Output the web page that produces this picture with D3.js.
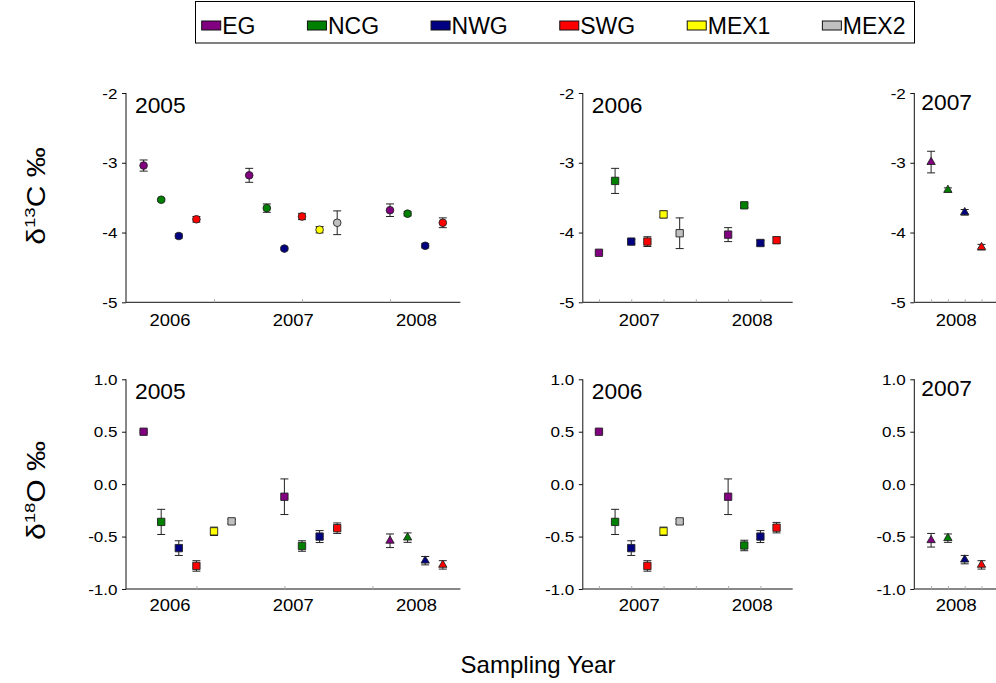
<!DOCTYPE html>
<html>
<head>
<meta charset="utf-8">
<script src="https://cdn.jsdelivr.net/npm/d3@7"></script>
<style>
  html, body { margin: 0; padding: 0; background: #fff; }
  svg { display: block; font-family: "Liberation Sans", Arial, sans-serif; }
</style>
</head>
<body>
<svg id="chart" width="996" height="683"></svg>
<script>
// Sampling sites and their legend colours
const sites = ["EG", "NCG", "NWG", "SWG", "MEX1", "MEX2"];
const siteColors = ["#800080", "#008000", "#000080", "#ff0000", "#ffff00", "#c0c0c0"];

// δ13C (‰), 2005 year class, by sampling year
const c05Site = ["EG","NCG","NWG","SWG", "EG","NCG","NWG","SWG","MEX1","MEX2", "EG","NCG","NWG","SWG"];
const c05Year = [2006,2006,2006,2006, 2007,2007,2007,2007,2007,2007, 2008,2008,2008,2008];
const c05Mean = [-3.04,-3.53,-4.05,-3.81, -3.18,-3.65,-4.23,-3.77,-3.96,-3.86, -3.68,-3.73,-4.19,-3.86];
const c05Err  = [0.08,0.02,0.03,0.04, 0.10,0.06,0.02,0.045,0.045,0.17, 0.09,0.03,0.03,0.07];

// δ13C (‰), 2006 year class
const c06Site = ["EG","NCG","NWG","SWG","MEX1","MEX2", "EG","NCG","NWG","SWG"];
const c06Year = [2007,2007,2007,2007,2007,2007, 2008,2008,2008,2008];
const c06Mean = [-4.29,-3.26,-4.13,-4.13,-3.74,-4.01, -4.03,-3.61,-4.15,-4.11];
const c06Err  = [0.02,0.18,0.03,0.07,0.05,0.22, 0.10,0.03,0.04,0.045];

// δ13C (‰), 2007 year class
const c07Site = ["EG","NCG","NWG","SWG"];
const c07Year = [2008,2008,2008,2008];
const c07Mean = [-2.99,-3.39,-3.71,-4.21];
const c07Err  = [0.155,0.03,0.04,0.04];

// δ18O (‰), 2005 year class
const o05Site = ["EG","NCG","NWG","SWG","MEX1","MEX2", "EG","NCG","NWG","SWG", "EG","NCG","NWG","SWG"];
const o05Year = [2006,2006,2006,2006,2006,2006, 2007,2007,2007,2007, 2008,2008,2008,2008];
const o05Mean = [0.50,-0.36,-0.61,-0.78,-0.45,-0.355, -0.12,-0.59,-0.50,-0.42, -0.54,-0.51,-0.73,-0.77];
const o05Err  = [0.01,0.12,0.07,0.05,0.04,0.02, 0.17,0.05,0.057,0.05, 0.065,0.045,0.04,0.04];

// δ18O (‰), 2006 year class
const o06Site = ["EG","NCG","NWG","SWG","MEX1","MEX2", "EG","NCG","NWG","SWG"];
const o06Year = [2007,2007,2007,2007,2007,2007, 2008,2008,2008,2008];
const o06Mean = [0.50,-0.36,-0.61,-0.78,-0.45,-0.355, -0.12,-0.585,-0.50,-0.415];
const o06Err  = [0.01,0.12,0.07,0.05,0.04,0.02, 0.17,0.05,0.057,0.05];

// δ18O (‰), 2007 year class
const o07Site = ["EG","NCG","NWG","SWG"];
const o07Year = [2008,2008,2008,2008];
const o07Mean = [-0.535,-0.515,-0.72,-0.77];
const o07Err  = [0.065,0.04,0.04,0.04];

// Axis ticks and labels
const carbonTicks = [-2, -3, -4, -5];
const oxygenTicks = [1.0, 0.5, 0.0, -0.5, -1.0];
const leftYearLabels = ["2006", "2007", "2008"];
const leftLabelSlots = [1.5, 8.5, 15.5];
const midYearLabels = ["2007", "2008"];
const midLabelSlots = [2.5, 9.5];
const rightYearLabels = ["2008"];
const rightLabelSlots = [1.5];

const svg = d3.select("#chart");

// Text helper: Arial-like glyphs drawn slightly wide
function addText(g, x, y, str, size, anchor, sx, rotate) {
  const t = g.append("text")
    .attr("transform", `translate(${x},${y})${rotate ? " rotate(" + rotate + ")" : ""} scale(${sx},1)`)
    .attr("text-anchor", anchor)
    .style("font-size", size + "px")
    .attr("fill", "#000");
  if (str !== null) t.text(str);
  return t;
}

const fmtCarbon = d => d3.format("d")(d).replace("\u2212", "-");
const fmtOxygen = d => d3.format(".1f")(d).replace("\u2212", "-");

// Row geometry
const rows = [
  { top: 93, bottom: 302.3, domain: [-5, -2], ticks: carbonTicks, fmt: fmtCarbon },
  { top: 379.3, bottom: 589, domain: [-1, 1], ticks: oxygenTicks, fmt: fmtOxygen }
];
// Column geometry (plot left edge, right edge)
const cols = [
  { x0: 126, x1: 460.4 },
  { x0: 582.8, x1: 792.7 },
  { x0: 914.3, x1: 998.3 }
];

const panels = [
  { row: 0, col: 0, title: "2005", site: c05Site, year: c05Year, mean: c05Mean, err: c05Err,
    shape: () => "circle", tickSlots: [4, 9, 14], labels: leftYearLabels, labelSlots: leftLabelSlots },
  { row: 0, col: 1, title: "2006", site: c06Site, year: c06Year, mean: c06Mean, err: c06Err,
    shape: () => "square", tickSlots: [0, 2, 4, 6, 8, 10], labels: midYearLabels, labelSlots: midLabelSlots },
  { row: 0, col: 2, title: "2007", site: c07Site, year: c07Year, mean: c07Mean, err: c07Err,
    shape: () => "triangle", tickSlots: [0, 1, 2, 3], labels: rightYearLabels, labelSlots: rightLabelSlots },
  { row: 1, col: 0, title: "2005", site: o05Site, year: o05Year, mean: o05Mean, err: o05Err,
    shape: y => (y === 2008 ? "triangle" : "square"), tickSlots: [3, 8, 13], labels: leftYearLabels, labelSlots: leftLabelSlots },
  { row: 1, col: 1, title: "2006", site: o06Site, year: o06Year, mean: o06Mean, err: o06Err,
    shape: () => "square", tickSlots: [0, 2, 4, 6, 8, 10], labels: midYearLabels, labelSlots: midLabelSlots },
  { row: 1, col: 2, title: "2007", site: o07Site, year: o07Year, mean: o07Mean, err: o07Err,
    shape: () => "triangle", tickSlots: [0, 1, 2, 3], labels: rightYearLabels, labelSlots: rightLabelSlots }
];

const symbolType = { circle: d3.symbolCircle, square: d3.symbolSquare, triangle: d3.symbolTriangle };
const symbolSize = { circle: 46, square: 54, triangle: 30 };

panels.forEach(p => {
  const r = rows[p.row], c = cols[p.col];

  // Points sit in consecutive slots; each sampling year is followed by two empty slots
  const pts = [];
  let slot = 0;
  p.mean.forEach((m, i) => {
    if (i > 0 && p.year[i] !== p.year[i - 1]) slot += 2;
    pts.push({ slot, site: p.site[i], year: p.year[i], mean: m, err: p.err[i] });
    slot += 1;
  });

  const x = d3.scaleLinear().domain([-1, slot]).range([c.x0, c.x1]);
  const y = d3.scaleLinear().domain(r.domain).range([r.bottom, r.top]);
  const g = svg.append("g");

  // Y axis with outward ticks
  const yAxis = d3.axisLeft(y).tickValues(r.ticks).tickSize(4).tickPadding(5).tickFormat(r.fmt);
  const ya = g.append("g").attr("transform", `translate(${c.x0},0)`).call(yAxis);
  ya.select(".domain").attr("stroke", "#111").attr("d", `M0,${y.range()[1]}V${y.range()[0]}`);
  ya.selectAll(".tick line").attr("stroke", "#111");
  ya.selectAll(".tick text").remove();
  r.ticks.forEach(t => addText(g, c.x0 - 8.5, y(t) + 5.5, r.fmt(t), 15.5, "end", 1.1));

  // X axis: baseline with faint inner ticks
  const xAxis = d3.axisBottom(x).tickValues(p.tickSlots).tickSize(-3).tickFormat("");
  const xa = g.append("g").attr("transform", `translate(0,${r.bottom})`).call(xAxis);
  xa.select(".domain").attr("stroke", "#111").attr("d", `M${x.range()[0]},0H${x.range()[1]}`);
  xa.selectAll(".tick line").attr("stroke", "#aaa");
  p.labels.forEach((lab, i) =>
    addText(g, x(p.labelSlots[i]), r.bottom + (p.row === 0 ? 24 : 22), lab, 16, "middle", 1.15));

  // Year-class label in the top-left corner of the panel
  addText(g, c.x0 + 9 - (p.col === 2 ? 2 : 0), r.top + (p.col === 2 ? 16.5 : 20), p.title, 21.5, "start", 1.06);

  // Error bars
  const eb = g.append("g").attr("stroke", "#222").attr("stroke-width", 1).attr("fill", "none");
  pts.forEach(d => {
    const cx = x(d.slot), yt = y(d.mean + d.err), yb = y(d.mean - d.err);
    eb.append("line").attr("x1", cx).attr("x2", cx).attr("y1", yt).attr("y2", yb);
    eb.append("line").attr("x1", cx - 4).attr("x2", cx + 4).attr("y1", yt).attr("y2", yt);
    eb.append("line").attr("x1", cx - 4).attr("x2", cx + 4).attr("y1", yb).attr("y2", yb);
  });

  // Markers
  g.append("g").selectAll("path").data(pts).join("path")
    .attr("transform", d => `translate(${x(d.slot)},${y(d.mean)})`)
    .attr("d", d => {
      const s = p.shape(d.year);
      return d3.symbol().type(symbolType[s]).size(symbolSize[s])();
    })
    .attr("fill", d => siteColors[sites.indexOf(d.site)])
    .attr("stroke", "#222")
    .attr("stroke-width", 0.9);
});

// Y-axis titles
function isotopeTitle(cy, mass, element) {
  const t = addText(svg, 44.5, cy, null, 25, "middle", 1.2, -90);
  t.append("tspan").text("\u03b4");
  t.append("tspan").attr("dy", -10).style("font-size", "15.5px").text(mass);
  t.append("tspan").attr("dy", 10).text(element + " \u2030");
}
isotopeTitle(196, "13", "C");
isotopeTitle(490.5, "18", "O");

// X-axis title
addText(svg, 538, 673, "Sampling Year", 24, "middle", 1.0);

// Legend
const legend = svg.append("g");
legend.append("rect").attr("x", 195.5).attr("y", 1.5).attr("width", 719).attr("height", 41.5)
  .attr("fill", "#fff").attr("stroke", "#000").attr("stroke-width", 1);
let lx = 201.7;
sites.forEach((s, i) => {
  legend.append("rect").attr("x", lx).attr("y", 21).attr("width", 19).attr("height", 9)
    .attr("fill", siteColors[i]).attr("stroke", "#111").attr("stroke-width", 1);
  const t = legend.append("text").attr("x", lx + 20.5).attr("y", 33.5)
    .style("font-size", "23px").attr("fill", "#000").text(s);
  lx += 20.5 + t.node().getComputedTextLength() + 52;
});
</script>
</body>
</html>
